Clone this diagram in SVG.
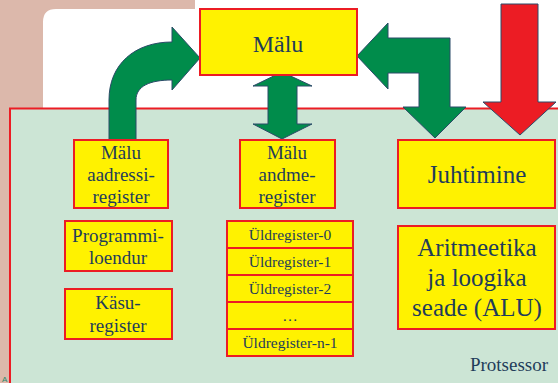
<svg xmlns="http://www.w3.org/2000/svg" width="558" height="383" viewBox="0 0 558 383">
<style>
.box{fill:#fff200;stroke:#ec1c24;stroke-width:2}
.t{font-family:"Liberation Serif","Times New Roman",serif;fill:#1f3d5a;text-anchor:middle}
.g{fill:#008c4b;stroke:#2b4a68;stroke-width:1}
.r{fill:#ec1c24;stroke:#2b4a68;stroke-width:1}
</style>
<rect width="558" height="383" fill="#dcb8ab"/>
<path d="M43,383 L43,22 Q43,9 56,9 L195,9 L195,0 L558,0 L558,383 Z" fill="#ffffff"/>
<rect id="protsessor" x="10" y="108.5" width="560" height="290" fill="#cce5d5" stroke="#ec1c24" stroke-width="2"/>
<g id="connectors">
<path class="g" d="M109,140 L109,100 C109,64 135,42 172,42 L172,27 L200,58 L172,90 L172,80 C150,80 136,86 136,100 L136,140 Z"/>
<path class="g" d="M282,72 L312,86 L297,86 L297,124 L312,124 L282,139 L253,124 L268,124 L268,86 L253,86 Z"/>
<path class="g" d="M357,56 L388,23 L388,38 L450,38 L450,107 L466,107 L435,138 L403,107 L419,107 L419,73 L388,73 L388,89 Z"/>
<path class="r" d="M501,4 L538,4 L538,102 L556,102 L520,135 L483,102 L501,102 Z"/>
</g>
<g id="malu"><rect class="box" x="200" y="9" width="157" height="66"/><text class="t" x="278" y="52" font-size="24">Mälu</text></g>
<g id="mar"><rect class="box" x="74" y="140" width="94" height="68"/><text class="t" font-size="19"><tspan x="121" y="159">Mälu</tspan><tspan x="121" y="181">aadressi-</tspan><tspan x="121" y="203">register</tspan></text></g>
<g id="pc"><rect class="box" x="65" y="221" width="107" height="50"/><text class="t" font-size="19"><tspan x="118" y="242">Programmi-</tspan><tspan x="118" y="264">loendur</tspan></text></g>
<g id="ir"><rect class="box" x="65" y="289" width="107" height="50"/><text class="t" font-size="19"><tspan x="118" y="309">Käsu-</tspan><tspan x="118" y="332">register</tspan></text></g>
<g id="mdr"><rect class="box" x="240" y="140" width="95" height="68"/><text class="t" font-size="19"><tspan x="287" y="159">Mälu</tspan><tspan x="287" y="181">andme-</tspan><tspan x="287" y="203">register</tspan></text></g>
<g id="regs">
<rect class="box" x="227" y="221" width="126" height="27"/>
<rect class="box" x="227" y="248" width="126" height="27"/>
<rect class="box" x="227" y="275" width="126" height="27"/>
<rect class="box" x="227" y="302" width="126" height="27"/>
<rect class="box" x="227" y="329" width="126" height="27"/>
<text class="t" font-size="15.5"><tspan x="290" y="240">Üldregister-0</tspan><tspan x="290" y="267">Üldregister-1</tspan><tspan x="290" y="294">Üldregister-2</tspan><tspan x="290" y="321">…</tspan><tspan x="290" y="348">Üldregister-n-1</tspan></text>
</g>
<g id="juhtimine"><rect class="box" x="398" y="140" width="157" height="68"/><text class="t" x="477" y="183" font-size="25">Juhtimine</text></g>
<g id="alu"><rect class="box" x="398" y="226" width="157" height="103"/><text class="t" font-size="25"><tspan x="477" y="256">Aritmeetika</tspan><tspan x="477" y="286">ja loogika</tspan><tspan x="477" y="316">seade (ALU)</tspan></text></g>
<text class="t" x="509" y="371" font-size="19">Protsessor</text>
<text x="2" y="382" font-family="Liberation Sans, Arial, sans-serif" font-size="8" fill="#2a8a6a">A</text>
</svg>
